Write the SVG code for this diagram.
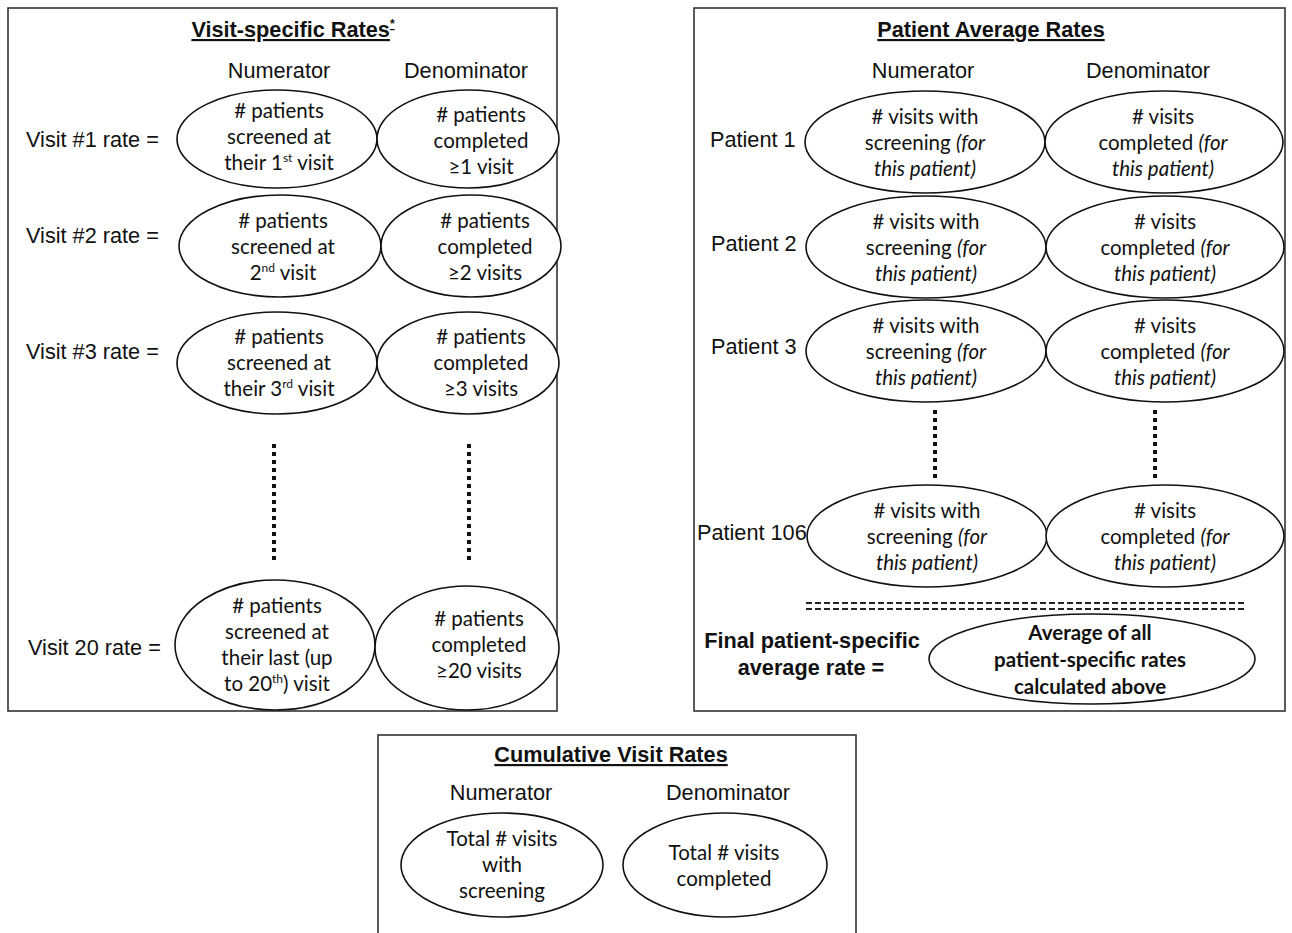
<svg xmlns="http://www.w3.org/2000/svg" width="1292" height="933" viewBox="0 0 1292 933">
<style>
.box{fill:none;stroke:#333;stroke-width:1.6}
.el{fill:#fff;stroke:#111;stroke-width:1.6}
.t{font-family:Lato,"Liberation Sans",sans-serif;font-size:20.5px;fill:#111;text-anchor:middle}
.ti{font-style:italic}
.lb{font-family:"Liberation Sans",Arial,sans-serif;font-size:21.7px;fill:#111}
.hd{font-family:"Liberation Sans",Arial,sans-serif;font-size:21.7px;fill:#111;text-anchor:middle}
.title{font-family:"Liberation Sans",Arial,sans-serif;font-size:21.7px;font-weight:bold;fill:#111;text-anchor:middle;text-decoration:underline}
.bt{font-family:Lato,"Liberation Sans",sans-serif;font-size:20.5px;font-weight:bold;fill:#111;text-anchor:middle}
.fl{font-family:"Liberation Sans",Arial,sans-serif;font-size:21.7px;font-weight:bold;fill:#111;text-anchor:middle}
.dot{stroke:#111;stroke-width:4;stroke-dasharray:4 4;fill:none}
.dash{stroke:#222;stroke-width:2;stroke-dasharray:6 3;fill:none}
</style>
<rect width="1292" height="933" fill="#fff"/>

<g id="panel-visit-specific">
<rect class="box" x="8" y="8" width="549" height="703"/>
<text class="title" x="293" y="37">Visit-specific Rates<tspan font-size="12" dy="-9">*</tspan></text>
<text class="hd" x="279" y="78">Numerator</text>
<text class="hd" x="466" y="78">Denominator</text>
</g>

<g id="v1">
<text class="lb" x="26" y="147">Visit #1 rate =</text>
<ellipse class="el" cx="277" cy="139" rx="100" ry="49"/>
<ellipse class="el" cx="468" cy="139" rx="91" ry="49"/>
<text class="t" x="279" y="118">#&#160;patients</text>
<text class="t" x="279" y="144">screened at</text>
<text class="t" x="279" y="170">their 1<tspan font-size="12" dy="-8">st</tspan><tspan dy="8"> visit</tspan></text>
<text class="t" x="481" y="122">#&#160;patients</text>
<text class="t" x="481" y="148">completed</text>
<text class="t" x="481" y="174">≥1 visit</text>
</g>

<g id="v2">
<text class="lb" x="26" y="243">Visit #2 rate =</text>
<ellipse class="el" cx="280" cy="246" rx="101" ry="51"/>
<ellipse class="el" cx="471" cy="246" rx="90" ry="51"/>
<text class="t" x="283" y="228">#&#160;patients</text>
<text class="t" x="283" y="254">screened at</text>
<text class="t" x="283" y="280">2<tspan font-size="12" dy="-8">nd</tspan><tspan dy="8"> visit</tspan></text>
<text class="t" x="485" y="228">#&#160;patients</text>
<text class="t" x="485" y="254">completed</text>
<text class="t" x="485" y="280">≥2 visits</text>
</g>

<g id="v3">
<text class="lb" x="26" y="359">Visit #3 rate =</text>
<ellipse class="el" cx="277" cy="363" rx="100" ry="51"/>
<ellipse class="el" cx="468" cy="363" rx="91" ry="51"/>
<text class="t" x="279" y="344">#&#160;patients</text>
<text class="t" x="279" y="370">screened at</text>
<text class="t" x="279" y="396">their 3<tspan font-size="12" dy="-8">rd</tspan><tspan dy="8"> visit</tspan></text>
<text class="t" x="481" y="344">#&#160;patients</text>
<text class="t" x="481" y="370">completed</text>
<text class="t" x="481" y="396">≥3 visits</text>
</g>

<g id="v20">
<text class="lb" x="28" y="655">Visit 20 rate =</text>
<ellipse class="el" cx="275" cy="645" rx="100" ry="65"/>
<ellipse class="el" cx="467" cy="648" rx="92" ry="62"/>
<text class="t" x="277" y="613">#&#160;patients</text>
<text class="t" x="277" y="639">screened at</text>
<text class="t" x="277" y="665">their last (up</text>
<text class="t" x="277" y="691">to 20<tspan font-size="12" dy="-8">th</tspan><tspan dy="8">) visit</tspan></text>
<text class="t" x="479" y="626">#&#160;patients</text>
<text class="t" x="479" y="652">completed</text>
<text class="t" x="479" y="678">≥20 visits</text>
</g>

<g id="panel-patient-average">
<rect class="box" x="694" y="8" width="591" height="703"/>
<text class="title" x="991" y="37">Patient Average Rates</text>
<text class="hd" x="923" y="78">Numerator</text>
<text class="hd" x="1148" y="78">Denominator</text>
</g>

<g id="p1">
<text class="lb" x="710" y="147">Patient 1</text>
<ellipse class="el" cx="925" cy="142" rx="120" ry="51"/>
<ellipse class="el" cx="1164" cy="142" rx="119" ry="51"/>
<text class="t" x="925" y="124">#&#160;visits with</text>
<text class="t" x="925" y="150">screening <tspan class="ti">(for</tspan></text>
<text class="t ti" x="925" y="176">this patient)</text>
<text class="t" x="1163" y="124">#&#160;visits</text>
<text class="t" x="1163" y="150">completed <tspan class="ti">(for</tspan></text>
<text class="t ti" x="1163" y="176">this patient)</text>
</g>

<g id="p2">
<text class="lb" x="711" y="251">Patient 2</text>
<ellipse class="el" cx="926" cy="247" rx="120" ry="51"/>
<ellipse class="el" cx="1165" cy="247" rx="119" ry="51"/>
<text class="t" x="926" y="229">#&#160;visits with</text>
<text class="t" x="926" y="255">screening <tspan class="ti">(for</tspan></text>
<text class="t ti" x="926" y="281">this patient)</text>
<text class="t" x="1165" y="229">#&#160;visits</text>
<text class="t" x="1165" y="255">completed <tspan class="ti">(for</tspan></text>
<text class="t ti" x="1165" y="281">this patient)</text>
</g>

<g id="p3">
<text class="lb" x="711" y="354">Patient 3</text>
<ellipse class="el" cx="926" cy="351" rx="120" ry="51"/>
<ellipse class="el" cx="1165" cy="351" rx="119" ry="51"/>
<text class="t" x="926" y="333">#&#160;visits with</text>
<text class="t" x="926" y="359">screening <tspan class="ti">(for</tspan></text>
<text class="t ti" x="926" y="385">this patient)</text>
<text class="t" x="1165" y="333">#&#160;visits</text>
<text class="t" x="1165" y="359">completed <tspan class="ti">(for</tspan></text>
<text class="t ti" x="1165" y="385">this patient)</text>
</g>

<g id="p106">
<text class="lb" x="697" y="540">Patient 106</text>
<ellipse class="el" cx="927" cy="536" rx="120" ry="51"/>
<ellipse class="el" cx="1165" cy="536" rx="119" ry="51"/>
<text class="t" x="927" y="518">#&#160;visits with</text>
<text class="t" x="927" y="544">screening <tspan class="ti">(for</tspan></text>
<text class="t ti" x="927" y="570">this patient)</text>
<text class="t" x="1165" y="518">#&#160;visits</text>
<text class="t" x="1165" y="544">completed <tspan class="ti">(for</tspan></text>
<text class="t ti" x="1165" y="570">this patient)</text>
</g>

<g id="final">
<text class="fl" x="812" y="648">Final patient-specific</text>
<text class="fl" x="811" y="675">average rate =</text>
<ellipse class="el" cx="1092" cy="659" rx="163" ry="45"/>
<text class="bt" x="1090" y="640">Average of all</text>
<text class="bt" x="1090" y="667">patient-specific rates</text>
<text class="bt" x="1090" y="694">calculated above</text>
</g>

<g id="panel-cumulative">
<rect class="box" x="378" y="735" width="478" height="210"/>
<text class="title" x="611" y="762">Cumulative Visit Rates</text>
<text class="hd" x="501" y="800">Numerator</text>
<text class="hd" x="728" y="800">Denominator</text>
</g>

<g id="c-num">
<ellipse class="el" cx="502" cy="865" rx="101" ry="52"/>
<text class="t" x="502" y="846">Total #&#160;visits</text>
<text class="t" x="502" y="872">with</text>
<text class="t" x="502" y="898">screening</text>
</g>

<g id="c-den">
<ellipse class="el" cx="725" cy="865" rx="102" ry="52"/>
<text class="t" x="724" y="860">Total #&#160;visits</text>
<text class="t" x="724" y="886">completed</text>
</g>

<g id="connectors">
<line class="dot" x1="274" y1="444" x2="274" y2="564"/>
<line class="dot" x1="469" y1="444" x2="469" y2="564"/>
<line class="dot" x1="935" y1="410" x2="935" y2="478"/>
<line class="dot" x1="1155" y1="410" x2="1155" y2="478"/>
<line class="dash" x1="806" y1="603" x2="1245" y2="603"/>
<line class="dash" x1="806" y1="609" x2="1245" y2="609"/>
</g>
</svg>
